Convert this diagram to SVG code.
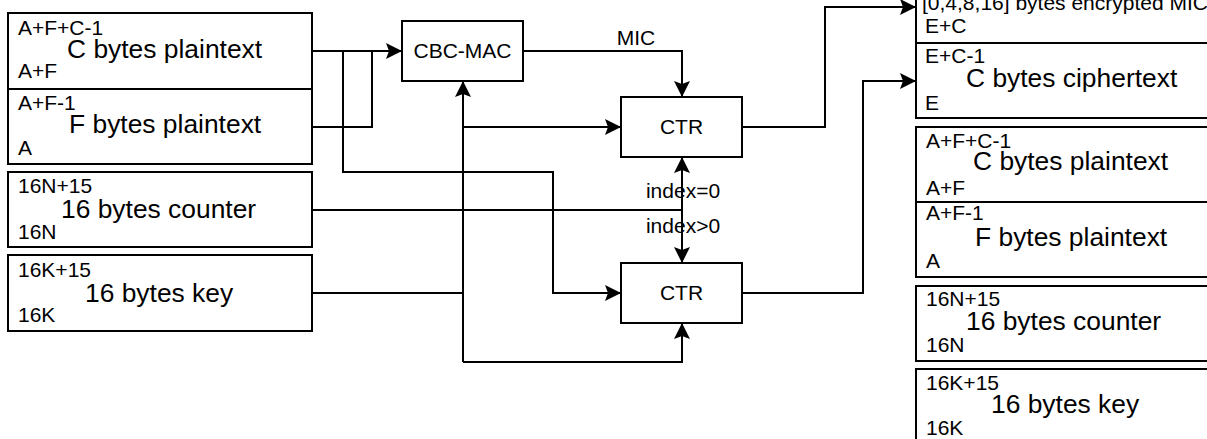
<svg xmlns="http://www.w3.org/2000/svg" width="1207" height="439" viewBox="0 0 1207 439">
<style>
.box{fill:#fff;stroke:#000;stroke-width:2}
.ln{fill:none;stroke:#000;stroke-width:2}
.s{font-family:"Liberation Sans",Arial,sans-serif;font-size:21px;fill:#000}
.b{font-family:"Liberation Sans",Arial,sans-serif;font-size:26.4px;fill:#000}
.c{text-anchor:middle}
</style>
<defs>
<marker id="ar" viewBox="0 0 16 16" refX="16" refY="8" markerWidth="16" markerHeight="16" markerUnits="userSpaceOnUse" orient="auto">
<path d="M0,0 L16,8 L0,16 L3,8 Z" fill="#000"/>
</marker>
</defs>
<rect width="1207" height="439" fill="#fff"/>
<g id="connectors">
<path class="ln" d="M312,51 H402" marker-end="url(#ar)"/>
<path class="ln" d="M312,127 H372 V51"/>
<path class="ln" d="M343,51 V172 H553 V293 H621" marker-end="url(#ar)"/>
<path class="ln" d="M312,293 H463"/>
<path class="ln" d="M463,362 V81" marker-end="url(#ar)"/>
<path class="ln" d="M463,127 H621" marker-end="url(#ar)"/>
<path class="ln" d="M463,362 H682 V323" marker-end="url(#ar)"/>
<path class="ln" d="M523,51 H682 V97" marker-end="url(#ar)"/>
<path class="ln" d="M312,210 H682"/>
<path class="ln" d="M682,210 V157" marker-end="url(#ar)"/>
<path class="ln" d="M682,210 V263" marker-end="url(#ar)"/>
<path class="ln" d="M742,127 H825 V7 H916" marker-end="url(#ar)"/>
<path class="ln" d="M742,293 H863 V81 H916" marker-end="url(#ar)"/>
<text class="s c" x="636" y="45">MIC</text>
<text class="s c" x="683" y="198">index=0</text>
<text class="s c" x="683" y="233">index&gt;0</text>
</g>
<g id="in-c-plaintext">
<rect class="box" x="8" y="13" width="304" height="76"/>
<text class="s" x="18" y="35">A+F+C-1</text>
<text class="b" x="67" y="58">C bytes plaintext</text>
<text class="s" x="18" y="78">A+F</text>
</g>
<g id="in-f-plaintext">
<rect class="box" x="8" y="89" width="304" height="75"/>
<text class="s" x="18" y="110">A+F-1</text>
<text class="b" x="69" y="133">F bytes plaintext</text>
<text class="s" x="18" y="155">A</text>
</g>
<g id="in-counter">
<rect class="box" x="8" y="172" width="304" height="75"/>
<text class="s" x="18" y="193">16N+15</text>
<text class="b" x="61" y="218">16 bytes counter</text>
<text class="s" x="18" y="239">16N</text>
</g>
<g id="in-key">
<rect class="box" x="8" y="255" width="304" height="76"/>
<text class="s" x="18" y="277">16K+15</text>
<text class="b" x="85" y="302">16 bytes key</text>
<text class="s" x="18" y="322">16K</text>
</g>
<g id="cbc-mac">
<rect class="box" x="402" y="21" width="121" height="60"/>
<text class="s c" x="462.5" y="58">CBC-MAC</text>
</g>
<g id="ctr1">
<rect class="box" x="621" y="97" width="121" height="60"/>
<text class="s c" x="681.5" y="134">CTR</text>
</g>
<g id="ctr2">
<rect class="box" x="621" y="263" width="121" height="60"/>
<text class="s c" x="681.5" y="300">CTR</text>
</g>
<g id="out-mic">
<rect class="box" x="916" y="-32" width="304" height="75"/>
<text class="s" x="922" y="10">[0,4,8,16] bytes encrypted MIC</text>
<text class="s" x="925" y="33">E+C</text>
</g>
<g id="out-ciphertext">
<rect class="box" x="916" y="43" width="304" height="75"/>
<text class="s" x="925" y="63">E+C-1</text>
<text class="b" x="966" y="87">C bytes ciphertext</text>
<text class="s" x="925" y="110">E</text>
</g>
<g id="out-c-plaintext">
<rect class="box" x="916" y="127" width="304" height="75"/>
<text class="s" x="926" y="148">A+F+C-1</text>
<text class="b" x="973" y="170">C bytes plaintext</text>
<text class="s" x="926" y="195">A+F</text>
</g>
<g id="out-f-plaintext">
<rect class="box" x="916" y="202" width="304" height="75"/>
<text class="s" x="926" y="220">A+F-1</text>
<text class="b" x="975" y="246">F bytes plaintext</text>
<text class="s" x="926" y="268">A</text>
</g>
<g id="out-counter">
<rect class="box" x="916" y="286" width="304" height="75"/>
<text class="s" x="926" y="306">16N+15</text>
<text class="b" x="966" y="330">16 bytes counter</text>
<text class="s" x="926" y="352">16N</text>
</g>
<g id="out-key">
<rect class="box" x="916" y="369" width="304" height="75"/>
<text class="s" x="926" y="390">16K+15</text>
<text class="b" x="991" y="413">16 bytes key</text>
<text class="s" x="926" y="435">16K</text>
</g>
</svg>
